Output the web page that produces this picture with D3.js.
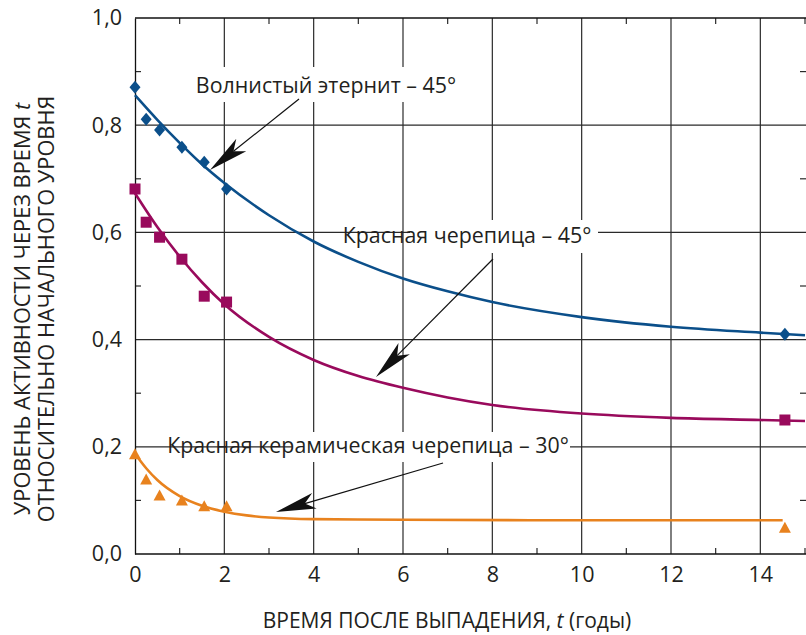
<!DOCTYPE html>
<html>
<head>
<meta charset="utf-8">
<script src="https://cdn.jsdelivr.net/npm/d3@7"></script>
<style>
  body { margin: 0; background: #fff; }
  svg { display: block; font-family: "Open Sans", "Noto Sans", sans-serif; }
</style>
</head>
<body>
<svg id="chart" width="806" height="635"></svg>
<script>
// measured points
const ptX = [0, 0.25, 0.55, 1.05, 1.55, 2.05, 14.55];
const eternitPts = [0.871, 0.811, 0.791, 0.759, 0.731, 0.681, 0.410];
const tilePts = [0.681, 0.619, 0.591, 0.550, 0.481, 0.470, 0.250];
const ceramicPts = [0.185, 0.138, 0.108, 0.099, 0.088, 0.088, 0.048];

// fitted curves
const eternitCurveX = [0, 0.5, 1, 1.5, 2, 3, 4, 5, 6, 7, 8, 10, 12, 14, 15];
const eternitCurveY = [0.856, 0.81, 0.767, 0.727, 0.692, 0.632, 0.583, 0.545, 0.514, 0.49, 0.47, 0.442, 0.424, 0.413, 0.408];
const tileCurveX = [0, 0.5, 1, 1.5, 2, 3, 4, 5, 6, 7, 8, 10, 12, 14, 15];
const tileCurveY = [0.673, 0.61, 0.555, 0.507, 0.466, 0.405, 0.362, 0.332, 0.31, 0.292, 0.278, 0.262, 0.254, 0.25, 0.248];
const ceramicCurveX = [0, 0.25, 0.5, 1, 1.5, 2, 2.5, 3, 4, 6, 10, 14.5];
const ceramicCurveY = [0.187, 0.16, 0.138, 0.108, 0.09, 0.079, 0.072, 0.068, 0.065, 0.064, 0.063, 0.063];

const xTicks = [0, 2, 4, 6, 8, 10, 12, 14];
const yTicks = [0, 0.2, 0.4, 0.6, 0.8, 1.0];

const colors = { eternit: "#0b4f8a", tile: "#990a5c", ceramic: "#e8821e" };
const ink = "#231f20";

const svg = d3.select("#chart");
const x = d3.scaleLinear().domain([0, 15]).range([135, 805]);
const y = d3.scaleLinear().domain([0, 1]).range([554, 18]);
const fmt = d => d3.format(".1f")(d).replace(".", ",");

// grid
const grid = svg.append("g").attr("stroke", "#2a2a2a").attr("stroke-width", 1.2);
grid.selectAll(".vx").data(xTicks.filter(d => d > 0)).enter().append("line")
  .attr("x1", d => x(d)).attr("x2", d => x(d)).attr("y1", y(1)).attr("y2", y(0));
grid.selectAll(".hy").data(yTicks.filter(d => d > 0 && d < 1)).enter().append("line")
  .attr("x1", x(0)).attr("x2", 806).attr("y1", d => y(d)).attr("y2", d => y(d));

// minor ticks
const minorX = d3.range(1, 16, 2);
const minorY = d3.range(0.1, 1, 0.2);
grid.selectAll(".mxb").data(minorX).enter().append("line")
  .attr("x1", d => x(d)).attr("x2", d => x(d)).attr("y1", y(0)).attr("y2", y(0) - 6);
grid.selectAll(".mxt").data(minorX).enter().append("line")
  .attr("x1", d => x(d)).attr("x2", d => x(d)).attr("y1", y(1)).attr("y2", y(1) + 6);
grid.selectAll(".myl").data(minorY).enter().append("line")
  .attr("x1", x(0)).attr("x2", x(0) + 6).attr("y1", d => y(d)).attr("y2", d => y(d));
grid.selectAll(".myr").data(minorY).enter().append("line")
  .attr("x1", 806).attr("x2", 800).attr("y1", d => y(d)).attr("y2", d => y(d));

// frame
svg.append("line").attr("x1", x(0)).attr("x2", 806).attr("y1", y(1)).attr("y2", y(1))
  .attr("stroke", "#111").attr("stroke-width", 1.3);

// axes
const xAxis = svg.append("g").attr("transform", `translate(0,${y(0)})`)
  .call(d3.axisBottom(x).tickValues(xTicks).tickSize(0).tickPadding(13));
const yAxis = svg.append("g").attr("transform", `translate(${x(0)},0)`)
  .call(d3.axisLeft(y).tickValues(yTicks).tickFormat(fmt).tickSize(0).tickPadding(13));
[xAxis, yAxis].forEach(a => {
  a.select(".domain").attr("stroke", "#111").attr("stroke-width", 1.3);
  a.selectAll("text").attr("font-size", 21.5).attr("fill", ink)
    .attr("font-family", "'Open Sans', sans-serif");
});
xAxis.select(".domain").attr("d", `M${x(0)},0H806`);

// white boxes behind labels
svg.append("rect").attr("x", 190).attr("y", 67).attr("width", 275).attr("height", 35).attr("fill", "#fff");
svg.append("rect").attr("x", 410).attr("y", 220).attr("width", 188).attr("height", 33).attr("fill", "#fff");
svg.append("rect").attr("x", 292).attr("y", 432).attr("width", 278).attr("height", 30).attr("fill", "#fff");

// curves
const line = d3.line().x(d => x(d[0])).y(d => y(d[1])).curve(d3.curveMonotoneX);
const curves = [
  [eternitCurveX, eternitCurveY, colors.eternit],
  [tileCurveX, tileCurveY, colors.tile],
  [ceramicCurveX, ceramicCurveY, colors.ceramic]
];
curves.forEach(([cx, cy, c]) => {
  svg.append("path").datum(d3.zip(cx, cy)).attr("d", line)
    .attr("fill", "none").attr("stroke", c).attr("stroke-width", 2.6);
});

// markers
svg.selectAll(".dia").data(d3.zip(ptX, eternitPts)).enter().append("path")
  .attr("d", d => { const cx = x(d[0]), cy = y(d[1]);
    return `M${cx},${cy - 6.5}L${cx + 5.5},${cy}L${cx},${cy + 6.5}L${cx - 5.5},${cy}Z`; })
  .attr("fill", colors.eternit);
svg.selectAll(".sq").data(d3.zip(ptX, tilePts)).enter().append("rect")
  .attr("x", d => x(d[0]) - 5.5).attr("y", d => y(d[1]) - 5.5)
  .attr("width", 11).attr("height", 11).attr("fill", colors.tile);
svg.selectAll(".tri").data(d3.zip(ptX, ceramicPts)).enter().append("path")
  .attr("d", d => { const cx = x(d[0]), cy = y(d[1]);
    return `M${cx},${cy - 6.5}L${cx + 6},${cy + 4.5}L${cx - 6},${cy + 4.5}Z`; })
  .attr("fill", colors.ceramic);

// annotations
function arrow(x1, y1, x2, y2) {
  const dx = x2 - x1, dy = y2 - y1, len = Math.hypot(dx, dy);
  const ux = dx / len, uy = dy / len, px = -uy, py = ux;
  const L = 40, W = 8, N = 30;
  const bx = x2 - ux * L, by = y2 - uy * L;
  const nx = x2 - ux * N, ny = y2 - uy * N;
  svg.append("line").attr("x1", x1).attr("y1", y1).attr("x2", nx).attr("y2", ny)
    .attr("stroke", "#111").attr("stroke-width", 1.2);
  svg.append("path")
    .attr("d", `M${x2},${y2}L${bx + px * W},${by + py * W}L${nx},${ny}L${bx - px * W},${by - py * W}Z`)
    .attr("fill", "#111");
}
arrow(299, 99, 210, 170);
arrow(493, 259, 376, 377);
arrow(443, 463, 276, 512);

const labels = [
  ["Волнистый этернит – 45°", 326, 93],
  ["Красная черепица – 45°", 467, 243],
  ["Красная керамическая черепица – 30°", 368, 453]
];
svg.selectAll(".lbl").data(labels).enter().append("text")
  .attr("x", d => d[1]).attr("y", d => d[2]).attr("text-anchor", "middle")
  .attr("font-size", 21.4).attr("fill", ink).text(d => d[0]);

// axis titles
const xt = svg.append("text").attr("x", 447).attr("y", 628).attr("text-anchor", "middle")
  .attr("font-size", 21).attr("fill", ink);
xt.append("tspan").text("ВРЕМЯ ПОСЛЕ ВЫПАДЕНИЯ, ");
xt.append("tspan").attr("font-style", "italic").text("t");
xt.append("tspan").text(" (годы)");

const yt = svg.append("text").attr("transform", "translate(30,309) rotate(-90)")
  .attr("text-anchor", "middle").attr("font-size", 21.8).attr("fill", ink);
yt.append("tspan").text("УРОВЕНЬ АКТИВНОСТИ ЧЕРЕЗ ВРЕМЯ ");
yt.append("tspan").attr("font-style", "italic").text("t");
svg.append("text").attr("transform", "translate(54,309) rotate(-90)")
  .attr("text-anchor", "middle").attr("font-size", 21.8).attr("fill", ink)
  .text("ОТНОСИТЕЛЬНО НАЧАЛЬНОГО УРОВНЯ");
</script>
</body>
</html>
